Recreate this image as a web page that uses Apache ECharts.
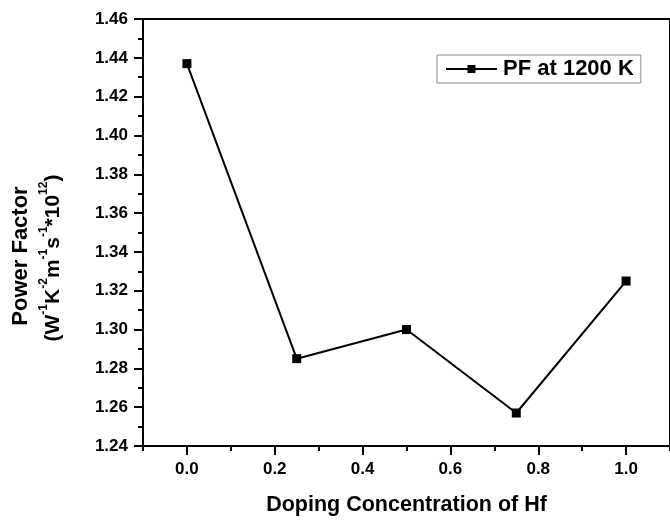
<!DOCTYPE html>
<html>
<head>
<meta charset="utf-8">
<script src="https://cdn.jsdelivr.net/npm/echarts@6/dist/echarts.min.js"></script>
<style>html,body{margin:0;padding:0;background:#fff;}#c{width:670px;height:521px;}</style>
</head>
<body>
<div id="c"></div>
<script>
var xValues = [0.0, 0.25, 0.5, 0.75, 1.0];
var pfValues = [1.437, 1.285, 1.300, 1.257, 1.325];
var seriesName = 'PF at 1200 K';
var xMajorTicks = [0.0, 0.2, 0.4, 0.6, 0.8, 1.0];
var xMinorTicks = [-0.1, 0.1, 0.3, 0.5, 0.7, 0.9, 1.1];
var xTitle = 'Doping Concentration of Hf';

var FONT = '"Liberation Sans", Arial, sans-serif';
var chart = echarts.init(document.getElementById('c'), null, {renderer: 'canvas'});
var data = xValues.map(function (x, i) { return [x, pfValues[i]]; });

chart.setOption({
  backgroundColor: '#fff',
  animation: false,
  grid: {left: 143, top: 19, bottom: 71, right: -6, show: true, borderColor: '#000', borderWidth: 2, backgroundColor: 'transparent'},
  legend: {
    left: 437, top: 55, orient: 'horizontal',
    borderColor: '#888', borderWidth: 1, padding: [3, 7, 3, 8],
    itemWidth: 51, itemHeight: 10, itemGap: 6,
    textStyle: {fontFamily: FONT, fontWeight: 'bold', fontSize: 22, color: '#000', padding: [0, 0, 0, 1]},
    data: [seriesName]
  },
  xAxis: [{
    type: 'value', min: -0.1, max: 1.1, interval: 0.1,
    axisLine: {show: true, onZero: false, lineStyle: {color: '#000', width: 2}},
    axisTick: {show: true, inside: false, length: 9, lineStyle: {color: '#000', width: 2}, customValues: xMajorTicks},
    axisLabel: {margin: 15, fontFamily: FONT, fontWeight: 'bold', fontSize: 17, color: '#000', customValues: xMajorTicks,
      formatter: function (v) { return v.toFixed(1); }},
    splitLine: {show: false},
    name: xTitle, nameLocation: 'middle', nameGap: 48,
    nameTextStyle: {fontFamily: FONT, fontWeight: 'bold', fontSize: 21.5, color: '#000'}
  }, {
    type: 'value', min: -0.1, max: 1.1, interval: 0.1, position: 'bottom',
    axisLine: {show: false, onZero: false},
    axisTick: {show: true, inside: false, length: 5, lineStyle: {color: '#000', width: 2}, customValues: xMinorTicks},
    axisLabel: {show: false},
    splitLine: {show: false}
  }],
  yAxis: {
    type: 'value', min: 1.24, max: 1.46, interval: 0.02,
    axisLine: {show: true, onZero: false, lineStyle: {color: '#000', width: 2}},
    axisTick: {show: true, inside: false, length: 9, lineStyle: {color: '#000', width: 2}},
    minorTick: {show: true, splitNumber: 2, length: 5, lineStyle: {color: '#000', width: 2}},
    axisLabel: {margin: 15, fontFamily: FONT, fontWeight: 'bold', fontSize: 17, color: '#000',
      formatter: function (v) { return v.toFixed(2); }},
    splitLine: {show: false}
  },
  graphic: [{
    type: 'text', x: 21, y: 256, rotation: Math.PI / 2,
    style: {text: 'Power Factor', font: 'bold 22px ' + FONT, fill: '#000', align: 'center', verticalAlign: 'middle'}
  }, {
    type: 'text', x: 51, y: 258, rotation: Math.PI / 2,
    style: {
      text: '{m|(W}{s|-1}{m|K}{s|-2}{m|m}{s|-1}{m|s}{s|-1}{m|*10}{s|12}{m|)}',
      fill: '#000', align: 'center', verticalAlign: 'middle',
      rich: {
        m: {fontFamily: FONT, fontWeight: 'bold', fontSize: 21, fill: '#000', lineHeight: 26, verticalAlign: 'bottom'},
        s: {fontFamily: FONT, fontWeight: 'bold', fontSize: 12, fill: '#000', lineHeight: 26, verticalAlign: 'top'}
      }
    }
  }],
  series: [{
    name: seriesName, type: 'line', data: data, xAxisIndex: 0,
    symbol: 'rect', symbolSize: 9,
    lineStyle: {color: '#000', width: 2},
    itemStyle: {color: '#000'}
  }]
});
</script>
</body>
</html>
